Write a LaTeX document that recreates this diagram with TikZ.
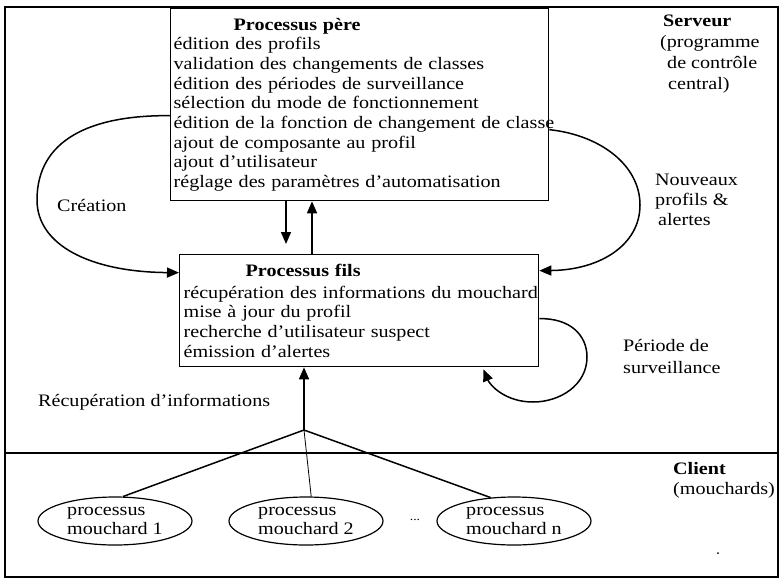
\documentclass[tikz,border=0pt]{standalone}
\usepackage{fontspec}
\setmainfont{Liberation Serif}[FakeStretch=1.15]
\usetikzlibrary{arrows.meta,shapes.geometric,calc}

\begin{document}
\begin{tikzpicture}[x=1pt,y=-1pt,
    font=\fontsize{17.5}{19.7}\selectfont,
    boite/.style={draw,line width=1.3pt,align=left,anchor=north west,inner ysep=0pt},
    fleche/.style={line width=1.5pt,-{Triangle[length=12pt,width=10pt]}},
    mouchard/.style={draw,ellipse,line width=1.2pt,minimum width=154pt,minimum height=48pt,inner sep=0pt,align=left},
    lbl/.style={anchor=west,align=left,inner sep=0pt}]
\useasboundingbox (0,0) rectangle (779,579);
% cadre et separation serveur / client
\draw[line width=1.2pt] (5,7) rectangle (778,577);
\draw[line width=1.2pt] (5,453) -- (778,453);

\node[boite,inner xsep=3pt,text width=372pt,minimum height=192pt] (pere) at (170,8)
  {\hspace*{60pt}\textbf{Processus père}\\
   édition des profils\\
   validation des changements de classes\\
   édition des périodes de surveillance\\
   sélection du mode de fonctionnement\\
   \mbox{édition de la fonction de changement de classe}\\
   ajout de composante au profil\\
   ajout d'utilisateur\\
   réglage des paramètres d'automatisation};
\node[boite,inner xsep=4pt,text width=351pt,minimum height=112pt] (fils) at (179,254)
  {\hspace*{62pt}\textbf{Processus fils}\\[2pt]
   \mbox{récupération des informations du mouchard}\\
   mise à jour du profil\\
   recherche d'utilisateur suspect\\
   émission d'alertes};

\node[mouchard] (m1) at (115,521) {processus\\mouchard 1};
\node[mouchard] (m2) at (306,521) {processus\\mouchard 2};
\node[mouchard] (mn) at (514,521) {processus\\mouchard n};
\node[font=\fontsize{12}{12}\selectfont] (points) at (415,520) {...};

% liens
\coordinate (b) at (286,244);
\coordinate (h) at (312,256);
\coordinate (jn) at (304,430);
\draw[fleche] (pere.south -| b) -- (b);
\draw[fleche] (fils.north -| h) -- (h |- pere.south);
\draw[fleche] ([yshift=-11pt]pere.west) .. controls (90,115) and (37,140) .. (37,200)
  .. controls (37,245) and (90,272) .. ([yshift=38pt]fils.west);
\draw[fleche] ([yshift=-25pt]pere.east) .. controls (600,135) and (640,165) .. (640,205)
  .. controls (640,245) and (600,270) .. ([yshift=40pt]fils.east);
\draw[fleche] ([yshift=-8pt]fils.east) .. controls (570,318) and (587,335) .. (587,357)
  .. controls (587,385) and (560,402) .. (533,402)
  .. controls (505,402) and (490,385) .. ([xshift=-56pt,yshift=-2pt]fils.south east);
\draw[fleche] (jn) -- (jn |- fils.south);
\draw[line width=1.5pt] (jn) -- (m1.72);
\draw[line width=0.8pt] (jn) -- (m2.78);
\draw[line width=1.5pt] (jn) -- (mn.135);

% textes
\node[lbl] (creation) at (57,205) {Création};
\node[lbl] (recup) at (38,402) {Récupération d'informations};
\node[lbl,font=\fontsize{17.5}{21}\selectfont] (serveur) at (660,54)
  {\hspace*{3pt}\textbf{Serveur}\\(programme\\\hspace*{7pt}de contrôle\\\hspace*{8pt}central)};
\node[lbl,font=\fontsize{17.5}{20}\selectfont] (nouveaux) at (655,200)
  {Nouveaux\\profils \&\\\hspace*{3pt}alertes};
\node[lbl,font=\fontsize{17.5}{22}\selectfont] (periode) at (623,356) {Période de\\surveillance};
\node[lbl,font=\fontsize{17.5}{20}\selectfont] (client) at (673,480) {\textbf{Client}\\(mouchards)};
\fill (718,553) circle (1pt);
\end{tikzpicture}
\end{document}
